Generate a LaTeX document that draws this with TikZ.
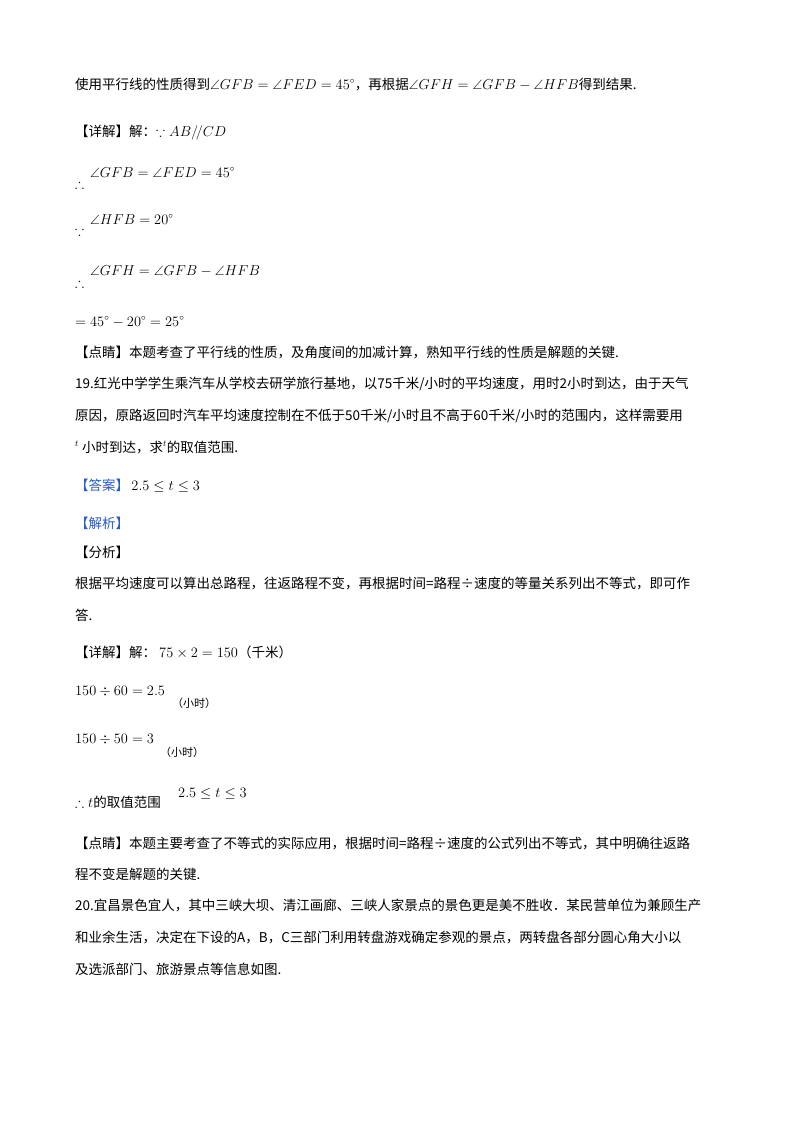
\documentclass[tikz,border=0pt]{standalone}
\usepackage{amssymb}
\usepackage{fontspec}
\newfontfamily\cjk{Noto Sans CJK SC}
\definecolor{ans}{RGB}{40,90,200}
\begin{document}
\begin{tikzpicture}[x=1pt,y=-1pt,
  t/.style={anchor=base west,inner sep=0pt,font=\fontsize{13.5}{16}\cjk},
  s/.style={anchor=base west,inner sep=0pt,font=\fontsize{11}{13}\cjk}]
\useasboundingbox[fill=white] (0,0) rectangle (800,1132);
\node[t] (l1) at (75,89) {使用平行线的性质得到$\angle GFB=\angle FED=45^\circ$，再根据$\angle GFH=\angle GFB-\angle HFB$得到结果.};
\node[t] (l2) at (75,136) {【详解】解：$\because AB/\!/CD$};
\node[t] (l3a) at (75,188) {$\therefore$};
\node[t] (l3) at (90,177) {$\angle GFB=\angle FED=45^\circ$};
\node[t] (l4a) at (75,235) {$\because$};
\node[t] (l4) at (90,224) {$\angle HFB=20^\circ$};
\node[t] (l5a) at (75,287) {$\therefore$};
\node[t] (l5) at (90,275) {$\angle GFH=\angle GFB-\angle HFB$};
\node[t] (l6) at (75,326) {$=45^\circ-20^\circ=25^\circ$};
\node[t] (l7) at (75,357) {【点睛】本题考查了平行线的性质，及角度间的加减计算，熟知平行线的性质是解题的关键.};
\node[t] (l8) at (75,388) {19.红光中学学生乘汽车从学校去研学旅行基地，以75千米/小时的平均速度，用时2小时到达，由于天气};
\node[t] (l9) at (75,420) {原因，原路返回时汽车平均速度控制在不低于50千米/小时且不高于60千米/小时的范围内，这样需要用};
\node[t] (l10) at (75,452) {$^{t}$ 小时到达，求$^{t}$的取值范围.};
\node[t] (l11) at (75,490) {\textcolor{ans}{【答案】}\,$2.5\le t\le 3$};
\node[t] (l12) at (75,528) {\textcolor{ans}{【解析】}};
\node[t] (l13) at (75,557) {【分析】};
\node[t] (l14) at (75,588) {根据平均速度可以算出总路程，往返路程不变，再根据时间=路程÷速度的等量关系列出不等式，即可作};
\node[t] (l15) at (75,620) {答.};
\node[t] (l16) at (75,657) {【详解】解：\ $75\times2=150$（千米）};
\node[t] (l17) at (75,695) {$150\div60=2.5$};
\node[s] (l17b) at (172,707) {（小时）};
\node[t] (l18) at (75,743) {$150\div50=3$};
\node[s] (l18b) at (160,756) {（小时）};
\node[t] (l19) at (75,807) {$\therefore t$的取值范围};
\node[t] (l19b) at (178,797) {$2.5\le t\le 3$};
\node[t] (l20) at (75,848) {【点睛】本题主要考查了不等式的实际应用，根据时间=路程÷速度的公式列出不等式，其中明确往返路};
\node[t] (l21) at (75,879) {程不变是解题的关键.};
\node[t] (l22) at (75,910) {20.宜昌景色宜人，其中三峡大坝、清江画廊、三峡人家景点的景色更是美不胜收．某民营单位为兼顾生产};
\node[t] (l23) at (75,942) {和业余生活，决定在下设的A，B，C三部门利用转盘游戏确定参观的景点，两转盘各部分圆心角大小以};
\node[t] (l24) at (75,974) {及选派部门、旅游景点等信息如图.};
\end{tikzpicture}
\end{document}
